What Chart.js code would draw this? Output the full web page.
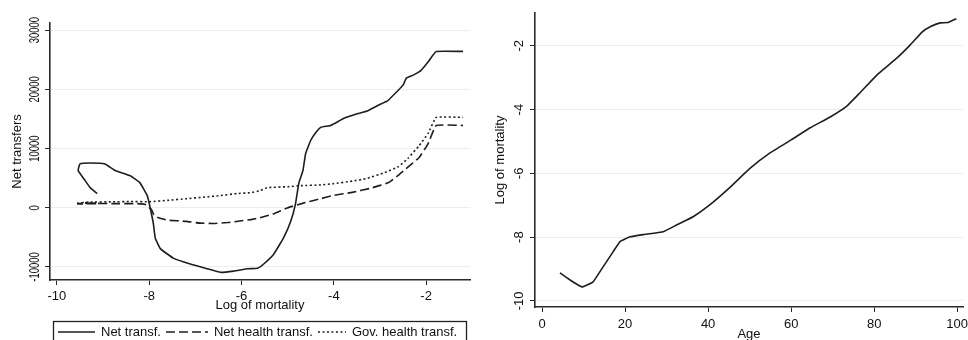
<!DOCTYPE html>
<html lang="en">
<head>
<meta charset="UTF-8">
<title>Net transfers and mortality</title>
<script src="https://cdn.jsdelivr.net/npm/chart.js"></script>
<style>
  body { margin: 0; background: #fff; }
  .wrap { position: relative; width: 968px; height: 340px; }
  canvas { position: absolute; top: 0; }
  #left { left: 0; }
  #right { left: 484px; }
</style>
</head>
<body>
<div class="wrap">
  <canvas id="left" width="484" height="340"></canvas>
  <canvas id="right" width="484" height="340"></canvas>
</div>
<script>
// Left panel: transfers vs log of mortality (points in age order, hence the hook at the start)
const netTransfX = [-9.13, -9.28, -9.39, -9.54, -9.50, -9.28, -8.96, -8.74, -8.41, -8.20, -8.04, -7.98, -7.91, -7.87, -7.76, -7.48, -7.11, -6.74, -6.46, -6.17, -5.87, -5.65, -5.52, -5.30, -5.09, -4.93, -4.83, -4.76, -4.67, -4.61, -4.50, -4.39, -4.28, -4.07, -3.78, -3.48, -3.26, -3.04, -2.83, -2.61, -2.50, -2.43, -2.28, -2.11, -1.96, -1.85, -1.78, -1.20];
const netTransfY = [2400, 3400, 4600, 6300, 7400, 7550, 7400, 6300, 5400, 4200, 2000, 0, -2700, -5100, -6900, -8500, -9500, -10300, -10900, -10700, -10300, -10200, -9500, -7800, -5100, -2200, 700, 4100, 6300, 9200, 11400, 12700, 13600, 13900, 15100, 15900, 16400, 17300, 18100, 19800, 20700, 21900, 22400, 23200, 24600, 25800, 26400, 26400];

const netHealthX = [-9.15, -9.55, -9.30, -8.80, -8.30, -8.10, -7.95, -7.90, -7.80, -7.60, -7.20, -6.90, -6.60, -6.30, -6.00, -5.80, -5.60, -5.30, -5.00, -4.70, -4.30, -4.00, -3.60, -3.20, -2.80, -2.60, -2.45, -2.15, -1.96, -1.78, -1.20];
const netHealthY = [700, 650, 750, 700, 700, 600, -300, -1200, -1700, -2100, -2300, -2600, -2650, -2500, -2200, -2000, -1700, -1000, 0, 700, 1500, 2100, 2600, 3300, 4300, 5500, 6500, 8500, 10800, 13900, 13900];

const govHealthX = [-9.15, -9.55, -9.30, -8.80, -8.40, -8.00, -7.60, -7.20, -6.80, -6.50, -6.10, -5.80, -5.60, -5.45, -5.00, -4.70, -4.30, -4.00, -3.60, -3.30, -2.90, -2.60, -2.40, -2.15, -1.96, -1.78, -1.20];
const govHealthY = [850, 800, 950, 1000, 1050, 1020, 1250, 1530, 1800, 2030, 2400, 2540, 2880, 3390, 3550, 3730, 3850, 4070, 4500, 4920, 5930, 6950, 8300, 10500, 12540, 15260, 15260];

const leftXTicks = [-10, -8, -6, -4, -2];
const leftYTicks = [-10000, 0, 10000, 20000, 30000];
const leftLabels = ['Net transf.', 'Net health transf.', 'Gov. health transf.'];

// Right panel: log of mortality by age
const ages = [4.3, 6.7, 9.6, 12.3, 14.7, 17.1, 18.8, 21.2, 24.3, 29.2, 32.5, 36.4, 40, 45, 50, 55, 60, 64.6, 69.4, 73.5, 76.6, 80.7, 85.5, 88.7, 91.6, 93.5, 95.9, 97.8, 99.8];
const logMort = [-9.12, -9.34, -9.56, -9.40, -8.93, -8.46, -8.14, -7.99, -7.92, -7.83, -7.61, -7.36, -7.03, -6.47, -5.85, -5.35, -4.95, -4.57, -4.23, -3.88, -3.47, -2.91, -2.38, -1.97, -1.56, -1.40, -1.28, -1.27, -1.15];
const rightXTicks = [0, 20, 40, 60, 80, 100];
const rightYTicks = [-10, -8, -6, -4, -2];

const FONT = '"Liberation Sans", Arial, sans-serif';
const INK = '#111';

const pairs = (xs, ys) => xs.map((x, i) => ({ x, y: ys[i] }));

function axis(min, max, ticks, isY, size) {
  return {
    type: 'linear', min, max,
    afterBuildTicks: s => { s.ticks = ticks.map(v => ({ value: v })); },
    afterFit: s => { if (isY) s.width = size; else s.height = size; },
    ticks: { display: false },
    border: { color: '#2a2a2a', width: 1.6 },
    grid: { drawOnChartArea: isY, color: '#ededed', lineWidth: 1, tickColor: '#2a2a2a', tickLength: 5 }
  };
}

// tick labels and titles, Stata style (vertical y labels)
function axisText(o) {
  return {
    id: 'axisText',
    afterDraw(chart) {
      const ctx = chart.ctx, xs = chart.scales.x, ys = chart.scales.y, a = chart.chartArea;
      ctx.save();
      ctx.fillStyle = INK;
      ctx.font = '13px ' + FONT;
      ctx.textAlign = 'center';
      ctx.textBaseline = 'middle';
      xs.ticks.forEach(t => ctx.fillText(String(t.value), xs.getPixelForValue(t.value), o.xTickY));
      ctx.fillText(o.xTitle, (a.left + a.right) / 2, o.xTitleY);
      ctx.font = o.yTickSize + 'px ' + FONT;
      ys.ticks.forEach(t => {
        ctx.save();
        ctx.translate(o.yTickX, ys.getPixelForValue(t.value));
        ctx.rotate(-Math.PI / 2);
        ctx.scale(o.squash, 1);
        ctx.fillText(String(t.value), 0, 0);
        ctx.restore();
      });
      ctx.font = '13px ' + FONT;
      ctx.translate(o.yTitleX, (a.top + a.bottom) / 2);
      ctx.rotate(-Math.PI / 2);
      ctx.fillText(o.yTitle, 0, 0);
      ctx.restore();
    }
  };
}

const boxLegend = {
  id: 'boxLegend',
  afterDraw(chart) {
    const ctx = chart.ctx;
    const samples = [37, 42, 28];
    ctx.save();
    ctx.strokeStyle = '#222';
    ctx.lineWidth = 1.3;
    ctx.strokeRect(53.5, 321.5, 413, 30);
    ctx.font = '13px ' + FONT;
    ctx.fillStyle = INK;
    ctx.textBaseline = 'middle';
    let x = 58;
    const y = 332;
    chart.data.datasets.forEach((ds, i) => {
      ctx.beginPath();
      ctx.setLineDash(ds.borderDash || []);
      ctx.lineWidth = ds.borderWidth;
      ctx.strokeStyle = ds.borderColor;
      ctx.moveTo(x, y);
      ctx.lineTo(x + samples[i], y);
      ctx.stroke();
      x += samples[i] + 6;
      ctx.fillText(ds.label, x, y);
      x += ctx.measureText(ds.label).width + 5;
    });
    ctx.restore();
  }
};

const lineStyle = { showLine: true, pointRadius: 0, borderColor: '#1e1e1e', borderWidth: 1.6, tension: 0.1, fill: false };

new Chart(document.getElementById('left'), {
  type: 'scatter',
  data: {
    datasets: [
      { ...lineStyle, label: leftLabels[0], data: pairs(netTransfX, netTransfY) },
      { ...lineStyle, label: leftLabels[1], data: pairs(netHealthX, netHealthY), borderDash: [9, 4] },
      { ...lineStyle, label: leftLabels[2], data: pairs(govHealthX, govHealthY), borderDash: [2, 2.5] }
    ]
  },
  options: {
    responsive: false, animation: false,
    layout: { padding: { left: 0, right: 14, top: 23, bottom: 0 } },
    plugins: { legend: { display: false }, tooltip: { enabled: false } },
    scales: {
      x: axis(-10.15, -1.05, leftXTicks, false, 60),
      y: axis(-12200, 31200, leftYTicks, true, 50)
    }
  },
  plugins: [axisText({ xTickY: 296, xTitle: 'Log of mortality', xTitleY: 305, yTickX: 35, yTickSize: 15, squash: 0.63, yTitle: 'Net transfers', yTitleX: 17 }), boxLegend]
});

new Chart(document.getElementById('right'), {
  type: 'scatter',
  data: {
    datasets: [
      { ...lineStyle, label: 'Log of mortality', data: pairs(ages, logMort) }
    ]
  },
  options: {
    responsive: false, animation: false,
    layout: { padding: { left: 0, right: 5, top: 13, bottom: 0 } },
    plugins: { legend: { display: false }, tooltip: { enabled: false } },
    scales: {
      x: axis(-1.7, 101.4, rightXTicks, false, 33),
      y: axis(-10.19, -0.97, rightYTicks, true, 51)
    }
  },
  plugins: [axisText({ xTickY: 324, xTitle: 'Age', xTitleY: 334, yTickX: 35, yTickSize: 13, squash: 1, yTitle: 'Log of mortality', yTitleX: 16 })]
});
</script>
</body>
</html>
